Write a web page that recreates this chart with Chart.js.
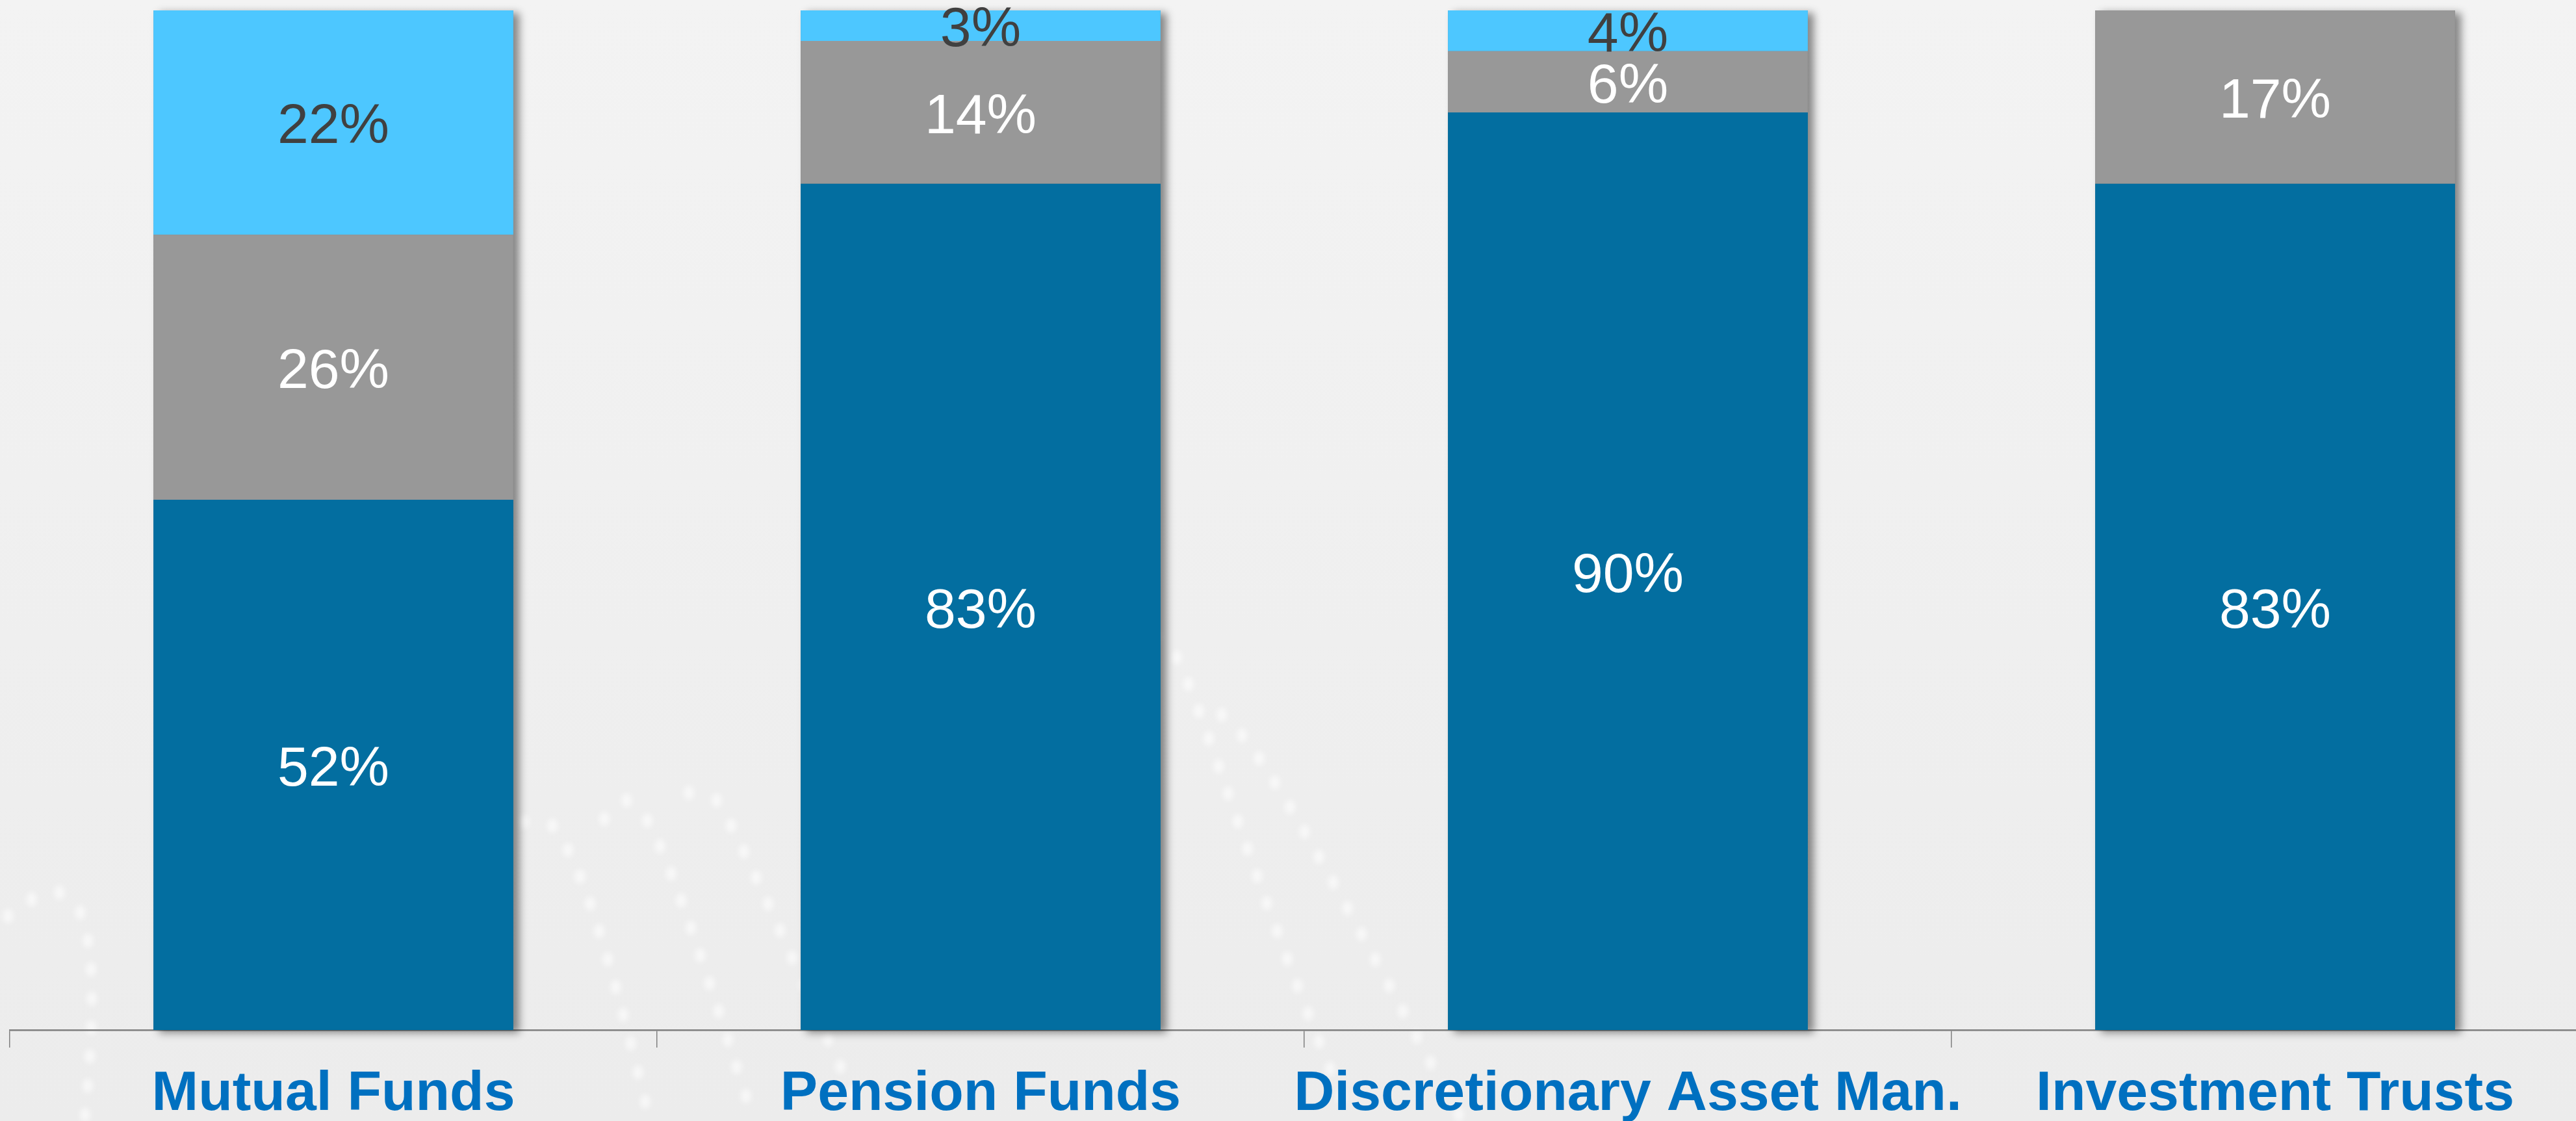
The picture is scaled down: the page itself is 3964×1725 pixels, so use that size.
<!DOCTYPE html>
<html>
<head>
<meta charset="utf-8">
<script src="https://cdn.jsdelivr.net/npm/chart.js@4"></script>
<style>
    html, body { margin: 0; padding: 0; overflow: hidden; }
    body { width: 3964px; height: 1725px; background: #efefef; }
    .chart-box { position: relative; width: 3999px; height: 1725px; }
</style>
</head>
<body>
<div class="chart-box"><canvas id="shareChart"></canvas></div>
<script>
// -----------------------------------------------------------------
// Stacked share chart by fund type
// -----------------------------------------------------------------

const categories = ['Mutual Funds', 'Pension Funds', 'Discretionary Asset Man.', 'Investment Trusts'];
const primaryShare = [52, 83, 90, 83];
const secondaryShare = [26, 14, 6, 17];
const otherShare = [22, 3, 4, 0];

const FONT = "'Liberation Sans', Arial, sans-serif";

// faint dotted swooshes behind the plot (bezier control points)
const swooshes = [
    [-20, 1440, 100, 1320, 170, 1330, 130, 1725],
    [780, 1300, 830, 1210, 880, 1220, 1000, 1725],
    [930, 1260, 980, 1190, 1000, 1220, 1160, 1725],
    [1060, 1220, 1090, 1170, 1120, 1250, 1330, 1725],
    [1780, 980, 1820, 960, 1900, 1300, 2080, 1725],
    [1880, 1100, 1950, 1150, 2100, 1450, 2250, 1725],
];

function bez(t, a, b, c, d) {
    const u = 1 - t;
    return u * u * u * a + 3 * u * u * t * b + 3 * u * t * t * c + t * t * t * d;
}

// soft grey backdrop with the dotted swooshes
const backdrop = {
    id: 'backdrop',
    beforeDraw(chart) {
        const { ctx, width, height } = chart;
        ctx.save();
        const g = ctx.createLinearGradient(0, 0, 0, height);
        g.addColorStop(0, '#f3f3f3');
        g.addColorStop(1, '#ececec');
        ctx.fillStyle = g;
        ctx.fillRect(0, 0, width, height);

        ctx.fillStyle = 'rgba(255, 255, 255, 0.6)';
        ctx.filter = 'blur(4px)';
        swooshes.forEach(p => {
            let lastX = null, lastY = null;
            for (let t = 0; t <= 1; t += 0.002) {
                const x = bez(t, p[0], p[2], p[4], p[6]);
                const y = bez(t, p[1], p[3], p[5], p[7]);
                if (lastX !== null && Math.hypot(x - lastX, y - lastY) < 44) continue;
                ctx.beginPath();
                ctx.ellipse(x, y, 8, 11, 0, 0, Math.PI * 2);
                ctx.fill();
                lastX = x; lastY = y;
            }
        });
        ctx.restore();
    }
};

// one drop shadow per full stack, painted before the segments
const stackShadow = {
    id: 'stackShadow',
    beforeDatasetsDraw(chart) {
        const { ctx } = chart;
        const metas = chart.getSortedVisibleDatasetMetas();
        ctx.save();
        ctx.shadowColor = 'rgba(0, 0, 0, 0.45)';
        ctx.shadowBlur = 12;
        ctx.shadowOffsetX = 9;
        ctx.shadowOffsetY = 4;
        ctx.fillStyle = '#7a7a7a';
        categories.forEach((c, i) => {
            let top = Infinity, base = -Infinity, x = 0, w = 0;
            metas.forEach(m => {
                const el = m.data[i];
                if (!el) return;
                top = Math.min(top, el.y);
                base = Math.max(base, el.base);
                x = el.x; w = el.width;
            });
            ctx.fillRect(x - w / 2, top, w, base - top);
        });
        ctx.restore();
    }
};

// percentage labels centred in each segment
const segmentLabels = {
    id: 'segmentLabels',
    afterDatasetsDraw(chart) {
        const { ctx } = chart;
        ctx.save();
        ctx.font = '86px ' + FONT;
        ctx.textAlign = 'center';
        ctx.textBaseline = 'middle';
        chart.getSortedVisibleDatasetMetas().forEach(meta => {
            const ds = chart.data.datasets[meta.index];
            meta.data.forEach((el, i) => {
                const v = ds.data[i];
                if (!v) return;
                ctx.fillStyle = ds.labelColor;
                ctx.fillText(v + '%', el.x, (el.y + el.base) / 2 + 8);
            });
        });
        ctx.restore();
    }
};

new Chart(document.getElementById('shareChart'), {
    type: 'bar',
    data: {
        labels: categories,
        datasets: [
            { label: 'Primary', data: primaryShare, backgroundColor: '#036ea0', labelColor: '#ffffff' },
            { label: 'Secondary', data: secondaryShare, backgroundColor: '#989898', labelColor: '#ffffff' },
            { label: 'Other', data: otherShare, backgroundColor: '#4dc7ff', labelColor: '#404040' }
        ]
    },
    options: {
        responsive: true,
        maintainAspectRatio: false,
        animation: false,
        layout: { padding: { top: 16, left: 15, right: 0, bottom: 0 } },
        datasets: {
            bar: {
                categoryPercentage: 1,
                barPercentage: 0.556,
                borderWidth: 0,
            }
        },
        plugins: {
            legend: { display: false },
            tooltip: { enabled: false }
        },
        scales: {
            x: {
                stacked: true,
                afterFit: scale => { scale.height = 140; },
                grid: {
                    offset: true,
                    drawOnChartArea: false,
                    drawTicks: true,
                    tickLength: 27,
                    color: '#808080',
                    lineWidth: 1.5,
                },
                border: { display: true, color: '#7f7f7f', width: 2.5 },
                ticks: {
                    padding: 44,
                    color: '#0070c0',
                    maxRotation: 0,
                    autoSkip: false,
                    font: { family: FONT, size: 86, weight: 'bold', lineHeight: 0.65 },
                }
            },
            y: {
                stacked: true,
                display: false,
                min: 0,
                max: 100,
            }
        }
    },
    plugins: [backdrop, stackShadow, segmentLabels]
});
</script>
</body>
</html>
